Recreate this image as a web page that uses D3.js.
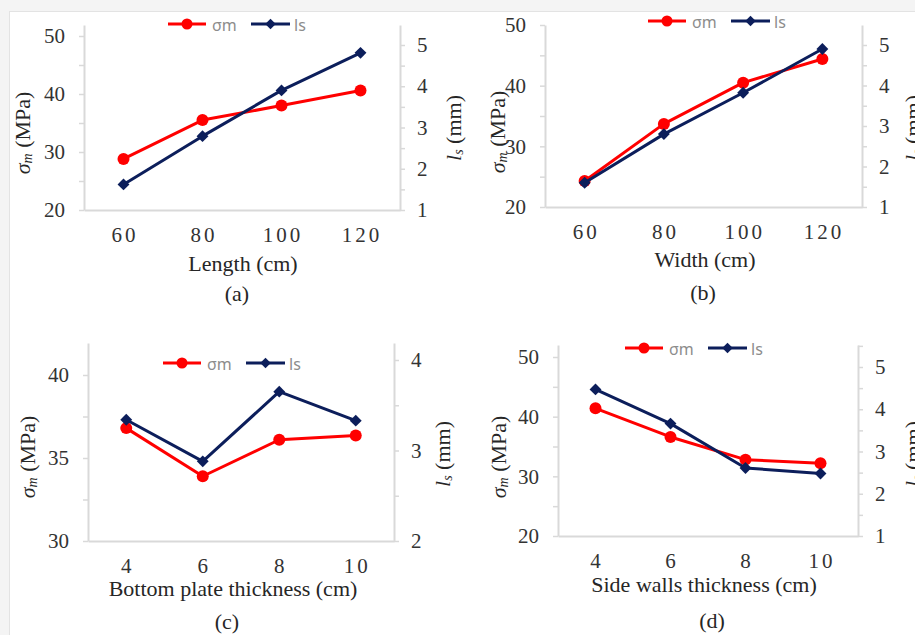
<!DOCTYPE html>
<html>
<head>
<meta charset="utf-8">
<script src="https://cdn.jsdelivr.net/npm/d3@7"></script>
<style>
  body { margin: 0; background: #f4f4f4; }
  svg { display: block; font-family: 'Liberation Serif', 'DejaVu Serif', serif; }
</style>
</head>
<body>
<svg id="chart" width="915" height="635"></svg>
<script>
// Categories on the x axes
const sizeCats = ['60', '80', '100', '120'];
const thickCats = ['4', '6', '8', '10'];

// (a) Length
const lengthSigma = [28.8, 35.5, 38.0, 40.6];
const lengthLs = [1.62, 2.79, 3.90, 4.81];
// (b) Width
const widthSigma = [24.3, 33.7, 40.5, 44.4];
const widthLs = [1.60, 2.80, 3.82, 4.90];
// (c) Bottom plate thickness
const bottomSigma = [36.8, 33.9, 36.1, 36.35];
const bottomLs = [3.34, 2.88, 3.65, 3.33];
// (d) Side walls thickness
const sideSigma = [41.4, 36.6, 32.8, 32.2];
const sideLs = [4.47, 3.66, 2.61, 2.48];

// Tick values
const sigmaTicks = [20, 25, 30, 35, 40, 45, 50];
const sigmaTicksC = [30, 32.5, 35, 37.5, 40];
const lsTicks = [1, 1.5, 2, 2.5, 3, 3.5, 4, 4.5, 5, 5.5];
const lsTicksC = [2, 2.5, 3, 3.5, 4];

const RED = '#ff0000';
const NAVY = '#0c1e5b';
const AXIS = '#d9d9d9';
const SERIF = 'Liberation Serif, DejaVu Serif, serif';
const SANS = 'Noto Sans, DejaVu Sans, sans-serif';

const svg = d3.select('#chart');

// white card over grey page
svg.append('rect')
  .attr('x', 9.5).attr('y', 11.5)
  .attr('width', 920).attr('height', 640)
  .attr('fill', '#fff')
  .attr('stroke', '#e3e3e3');

// layout of the four panels
const panels = [
  {cats: sizeCats, sigma: lengthSigma, ls: lengthLs, xTitle: 'Length (cm)', tag: '(a)',
   L: 84, R: 400, top: 25, bottom: 210,
   left: {lo: 20, hi: 50, yHi: 36, ticks: sigmaTicks, major: 10},
   right: {lo: 1, hi: 5, yHi: 45, ticks: lsTicks},
   legend: [168, 24], titleL: [22, 133], titleR: [453, 128],
   xTitlePos: [243, 271], tagPos: [237, 301]},
  {cats: sizeCats, sigma: widthSigma, ls: widthLs, xTitle: 'Width (cm)', tag: '(b)',
   L: 545, R: 862, top: 25, bottom: 207,
   left: {lo: 20, hi: 50, yHi: 25, ticks: sigmaTicks, major: 10},
   right: {lo: 1, hi: 5, yHi: 45, ticks: lsTicks},
   legend: [648, 21], titleL: [497, 132], titleR: [912, 128],
   xTitlePos: [705, 267], tagPos: [703, 300]},
  {cats: thickCats, sigma: bottomSigma, ls: bottomLs, xTitle: 'Bottom plate thickness (cm)', tag: '(c)',
   L: 88, R: 394, top: 343, bottom: 541,
   left: {lo: 30, hi: 40, yHi: 375, ticks: sigmaTicksC, major: 5},
   right: {lo: 2, hi: 4, yHi: 360, ticks: lsTicksC},
   legend: [163, 363], titleL: [27, 457], titleR: [442, 454],
   xTitlePos: [233, 596], tagPos: [227, 629]},
  {cats: thickCats, sigma: sideSigma, ls: sideLs, xTitle: 'Side walls thickness (cm)', tag: '(d)',
   L: 558, R: 858, top: 345, bottom: 536,
   left: {lo: 20, hi: 50, yHi: 357, ticks: sigmaTicks, major: 10},
   right: {lo: 1, hi: 5, yHi: 367, ticks: lsTicks},
   legend: [625, 348], titleL: [498, 457], titleR: [912, 454],
   xTitlePos: [704, 592], tagPos: [712, 628]}
];

// scale that keeps the tick mapping but runs up to the plot top
function yScale(p, a) {
  const s = d3.scaleLinear().domain([a.lo, a.hi]).range([p.bottom, a.yHi]);
  return s.domain([a.lo, s.invert(p.top)]).range([p.bottom, p.top]);
}

function styleAxis(g) {
  g.attr('font-family', SERIF).attr('font-size', 21);
  g.select('.domain').attr('stroke', AXIS).attr('stroke-width', 2);
  g.selectAll('.tick line').attr('stroke', AXIS).attr('stroke-width', 1.5);
  g.selectAll('.tick text').attr('fill', '#333');
}

function drawPanel(p) {
  const g = svg.append('g');
  const x = d3.scaleBand().domain(p.cats).range([p.L, p.R]);
  const cx = c => x(c) + x.bandwidth() / 2;
  const yL = yScale(p, p.left);
  const yR = yScale(p, p.right);
  const ticksL = p.left.ticks.filter(d => d <= yL.domain()[1] + 1e-6);
  const ticksR = p.right.ticks.filter(d => d <= yR.domain()[1] + 1e-6);

  // left axis
  g.append('g')
    .attr('transform', 'translate(' + p.L + ',0)')
    .call(d3.axisLeft(yL).tickValues(ticksL).tickSize(5).tickSizeOuter(0).tickPadding(14)
      .tickFormat(d => d % p.left.major === 0 ? d : ''))
    .call(styleAxis);

  // right axis
  g.append('g')
    .attr('transform', 'translate(' + p.R + ',0)')
    .call(d3.axisRight(yR).tickValues(ticksR).tickSize(5).tickSizeOuter(0).tickPadding(12)
      .tickFormat(d => Number.isInteger(d) ? d : ''))
    .call(styleAxis);

  // bottom axis
  const gx = g.append('g')
    .attr('transform', 'translate(0,' + p.bottom + ')')
    .call(d3.axisBottom(x).tickSize(0).tickSizeOuter(0))
    .call(styleAxis);
  gx.selectAll('.tick text')
    .attr('y', 32).attr('dy', 0).attr('dx', 1.5)
    .attr('letter-spacing', 3);

  // lines
  const lineL = d3.line().x((d, i) => cx(p.cats[i])).y(d => yL(d));
  const lineR = d3.line().x((d, i) => cx(p.cats[i])).y(d => yR(d));

  g.append('path').datum(p.sigma)
    .attr('d', lineL).attr('fill', 'none')
    .attr('stroke', RED).attr('stroke-width', 3).attr('stroke-linejoin', 'round');
  g.selectAll('.dotS').data(p.sigma).join('circle')
    .attr('cx', (d, i) => cx(p.cats[i]))
    .attr('cy', d => yL(d))
    .attr('r', 6).attr('fill', RED);

  g.append('path').datum(p.ls)
    .attr('d', lineR).attr('fill', 'none')
    .attr('stroke', NAVY).attr('stroke-width', 3).attr('stroke-linejoin', 'round');
  g.selectAll('.dotL').data(p.ls).join('path')
    .attr('transform', (d, i) => 'translate(' + cx(p.cats[i]) + ',' + yR(d) + ')')
    .attr('d', d3.symbol(d3.symbolDiamond2, 90))
    .attr('fill', NAVY);

  // legend
  const [lx, ly] = p.legend;
  const lg = g.append('g').attr('transform', 'translate(' + lx + ',' + ly + ')');
  lg.append('line').attr('x1', 0).attr('x2', 38).attr('stroke', RED).attr('stroke-width', 3);
  lg.append('circle').attr('cx', 19).attr('r', 5.5).attr('fill', RED);
  lg.append('text').attr('x', 44).attr('y', 1).text('σm');
  lg.append('line').attr('x1', 83).attr('x2', 122).attr('stroke', NAVY).attr('stroke-width', 3);
  lg.append('path').attr('transform', 'translate(102.5,0)')
    .attr('d', d3.symbol(d3.symbolDiamond2, 70)).attr('fill', NAVY);
  lg.append('text').attr('x', 126).attr('y', 1).text('ls');
  lg.selectAll('text')
    .attr('fill', '#8c8c8c')
    .attr('dominant-baseline', 'central')
    .attr('font-family', SANS)
    .attr('font-size', 16);

  // axis titles
  const tL = g.append('text')
    .attr('transform', 'translate(' + p.titleL[0] + ',' + p.titleL[1] + ') rotate(-90)')
    .attr('text-anchor', 'middle').attr('dominant-baseline', 'central');
  tL.append('tspan').attr('font-style', 'italic').text('σ');
  tL.append('tspan').attr('font-style', 'italic').attr('font-size', 14)
    .attr('dy', 5).text('m');
  tL.append('tspan').attr('dy', -5).text(' (MPa)');

  const tR = g.append('text')
    .attr('transform', 'translate(' + p.titleR[0] + ',' + p.titleR[1] + ') rotate(-90)')
    .attr('text-anchor', 'middle').attr('dominant-baseline', 'central');
  tR.append('tspan').attr('font-style', 'italic').text('l');
  tR.append('tspan').attr('font-style', 'italic').attr('font-size', 14)
    .attr('dy', 5).text('s');
  tR.append('tspan').attr('dy', -5).text(' (mm)');

  const tX = g.append('text')
    .attr('x', p.xTitlePos[0]).attr('y', p.xTitlePos[1])
    .attr('text-anchor', 'middle').text(p.xTitle);
  const tTag = g.append('text')
    .attr('x', p.tagPos[0]).attr('y', p.tagPos[1])
    .attr('text-anchor', 'middle').text(p.tag);

  [tL, tR, tX, tTag].forEach(t => t
    .attr('fill', '#262626')
    .attr('font-family', SERIF)
    .attr('font-size', 22));
}

panels.forEach(drawPanel);
</script>
</body>
</html>
